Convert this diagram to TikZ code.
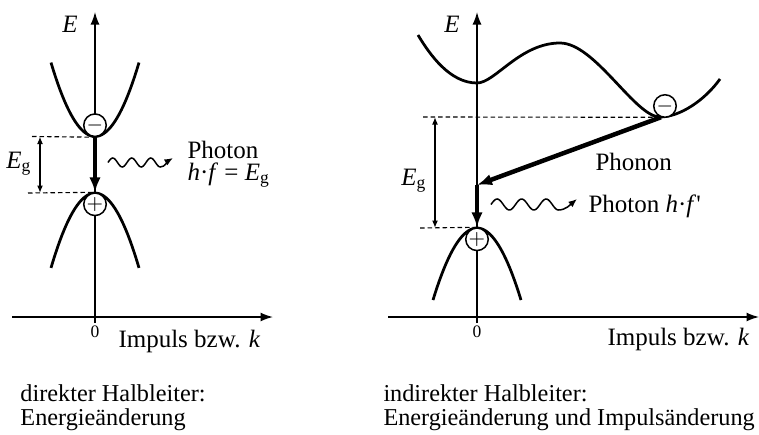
\documentclass[tikz,border=0pt]{standalone}
\usepackage{fontspec}
\setmainfont{Liberation Serif}
\usetikzlibrary{arrows.meta,positioning}

\begin{document}
\begin{tikzpicture}[>=Latex,x=0.4pt,y=-0.4pt,font=\fontsize{10}{12}\selectfont]
\tikzstyle{axis}=[line width=0.6pt,-{Latex[length=5pt,width=3.6pt]}]
\tikzstyle{band}=[line width=1.1pt]
\tikzstyle{level}=[line width=0.45pt,dash pattern=on 1.8pt off 1.2pt]
\tikzstyle{gap}=[line width=0.6pt,{Latex[length=3pt,width=2.4pt]}-{Latex[length=3pt,width=2.4pt]}]
\tikzstyle{jump}=[line width=1.8pt,-{Latex[length=6pt,width=4.6pt]}]
\tikzstyle{photon}=[line width=0.6pt,-{Latex[length=3.4pt,width=2.8pt]}]
\tikzstyle{carrier}=[circle,draw,fill=white,line width=0.6pt,minimum size=9pt,inner sep=0pt,font=\fontsize{8}{8}\selectfont]
\tikzstyle{lbl}=[inner sep=0pt]
\tikzstyle{caption}=[lbl,anchor=base west,font=\fontsize{9.7}{12}\selectfont]
\useasboundingbox (0,0) rectangle (759,434);
% direkter Halbleiter
\draw[axis] (12,317) -- (273,317);
\draw[axis] (95,323) -- (95,12);
\node[lbl,anchor=base] (EL) at (70,32) {\textit{E}};
\draw[band] plot[domain=-44:44,samples=41] ({95+\x},{136.5-0.0382*\x*\x});
\draw[band] plot[domain=-44:44,samples=41] ({95+\x},{193+0.0387*\x*\x});
\node[carrier] (eL) at (95,125.2) {$-$};
\node[carrier] (hL) at (95,204.3) {$+$};
\draw[level] (32,136.5) -- (eL.south);
\draw[level] (28,193) -- (hL.north);
\draw[gap] (40,136.5) -- (40,193);
\node[lbl,anchor=base] (EgL) at (19,168) {\textit{E}\textsubscript{g}};
\draw[jump] (eL.south) -- (hL.north);
\draw[photon] plot[domain=0:52.25,samples=45] ({108+\x},{162.5-4.5*sin(\x/19*360)})
  .. controls (165,167) and (168,161) .. (173,158);
\node[lbl,anchor=base west] (phL) at (187,158) {Photon};
\node[lbl,anchor=base west] (hfL) at (187,180) {\textit{h}·\textit{f} = \textit{E}\textsubscript{g}};
\node[lbl,anchor=base,font=\fontsize{7}{7}\selectfont] (zL) at (95,337) {0};
\node[lbl,anchor=base west] (kL) at (118,347) {Impuls bzw. \textit{k}};
\node[caption] (capL1) at (20,401) {direkter Halbleiter:};
\node[caption] (capL2) at (20,425) {Energieänderung};
% indirekter Halbleiter
\draw[axis] (388,317) -- (759,317);
\draw[axis] (477,323) -- (477,12);
\node[lbl,anchor=base] (ER) at (452,32) {\textit{E}};
\draw[band] (418,35) .. controls (430,55) and (450,83) .. (477,83)
  .. controls (495,83) and (520,43) .. (560,43)
  .. controls (595,43) and (635,117) .. (660,117)
  .. controls (680,117) and (705,100) .. (720,79);
\draw[band] plot[domain=-44:44,samples=41] ({477+\x},{228+0.0372*\x*\x});
\node[carrier] (eR) at (665,106) {$-$};
\node[carrier] (hR) at (477,239.3) {$+$};
\coordinate (kink) at (477,185);
\draw[level] (423,117) -- (eR.250);
\draw[level] (420,228) -- (hR.north);
\draw[gap] (435,117) -- (435,228);
\node[lbl,anchor=base] (EgR) at (414,185) {\textit{E}\textsubscript{g}};
\draw[jump] (eR.250) -- (kink);
\draw[jump] (kink) -- (hR.north);
\draw[photon] plot[domain=0:67.4,samples=55] ({491+\x},{204.5-5.5*sin(\x/24.5*360)})
  .. controls (566,210) and (571,204) .. (577,199);
\node[lbl,anchor=base west] (phonR) at (595,170) {Phonon};
\node[lbl,anchor=base west] (phR) at (588,212) {Photon \textit{h}·\textit{f}\textquotesingle};
\node[lbl,anchor=base,font=\fontsize{7}{7}\selectfont] (zR) at (477,337) {0};
\node[lbl,anchor=base west] (kR) at (607,345) {Impuls bzw. \textit{k}};
\node[caption] (capR1) at (383,401) {indirekter Halbleiter:};
\node[caption] (capR2) at (383,425) {Energieänderung und Impulsänderung};
\end{tikzpicture}
\end{document}
